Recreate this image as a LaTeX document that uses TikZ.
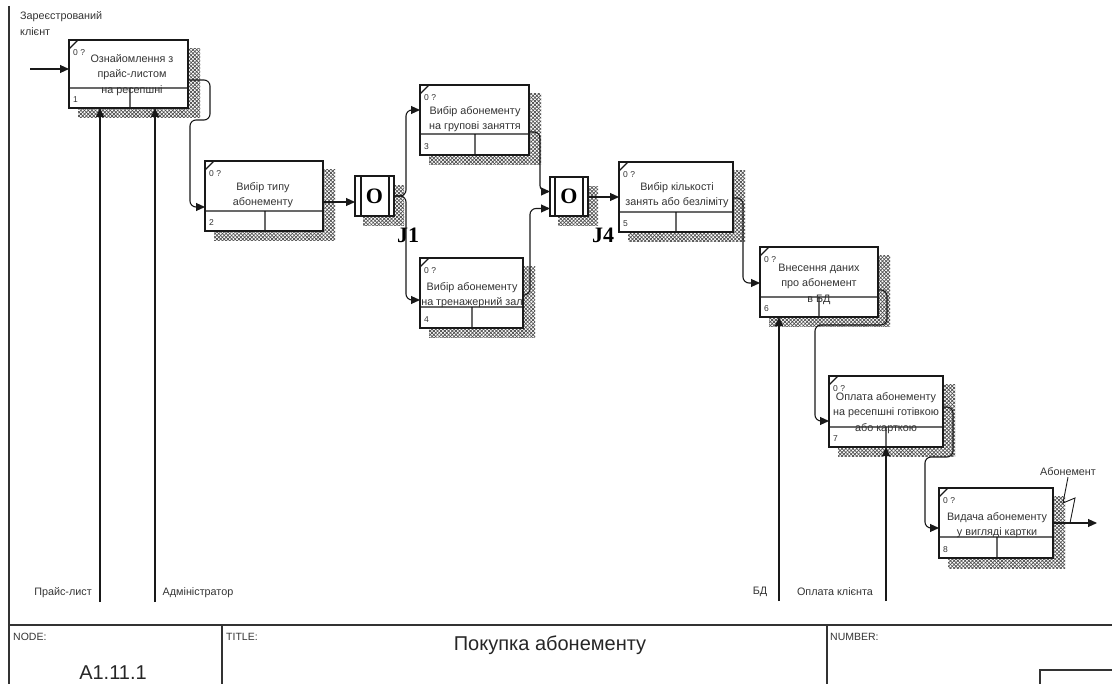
\documentclass[tikz,border=0pt]{standalone}
\usepackage{fontspec}
\setmainfont{Liberation Sans}
\newfontfamily\serifbold{Liberation Serif}
\usetikzlibrary{arrows.meta,patterns.meta}

\tikzset{
  hatchA/.style={pattern={Lines[angle=45,distance=2.6pt,line width=0.7pt]},pattern color=black!70},
  hatchB/.style={pattern={Lines[angle=-45,distance=2.6pt,line width=0.7pt]},pattern color=black!70},
  boxshape/.style={draw=black!90,line width=1.3pt,fill=white,inner sep=0pt,outer sep=0pt},
  boxedge/.style={draw=black!90,line width=1.3pt},
  frame/.style={draw=black!80,line width=1.4pt},
  conn/.style={draw=black!90,line width=1.1pt,rounded corners=6pt,-{Triangle[length=9pt,width=8pt]}},
  squig/.style={draw=black!90,line width=0.9pt},
  boxtext/.style={font=\fontsize{10.8}{15.5}\selectfont,text=black!80,align=center,inner sep=0pt},
  tag/.style={font=\fontsize{8.5}{10}\selectfont,text=black!80,inner sep=1pt},
  lbl/.style={font=\fontsize{10.8}{16}\selectfont,text=black!80,inner sep=1pt},
  hdr/.style={font=\fontsize{10.5}{12}\selectfont,text=black!80,inner sep=1pt},
  big/.style={font=\fontsize{20}{24}\selectfont,text=black!85,inner sep=0pt},
  jfont/.style={font=\serifbold\bfseries\fontsize{22}{22}\selectfont,inner sep=0pt},
}

% activity box: name, x1, y1, x2, y2, strip y, divider x, number
\newcommand\actbox[8]{%
  \fill[hatchA] (#2+9,#3+9) rectangle (#4+12,#5+10);
  \fill[hatchB] (#2+9,#3+9) rectangle (#4+12,#5+10);
  \node[boxshape,minimum width={(#4-#2)*1pt},minimum height={(#5-#3)*1pt},anchor=north west] (#1) at (#2,#3) {};
  \draw[boxedge] (#2,#6) -- (#4,#6) (#7,#6) -- (#7,#5) (#2,#3+9) -- (#2+9,#3);
  \node[tag,anchor=west] (#1q) at (#2+3,#3+13) {0 ?};
  \node[tag,anchor=west] (#1n) at (#2+3,#5-8) {#8};
}

% junction box: name, x1, y1, x2, y2, inner bar 1, inner bar 2
\newcommand\junct[7]{%
  \fill[hatchA] (#2+8,#3+10) rectangle (#4+10,#5+10);
  \fill[hatchB] (#2+8,#3+10) rectangle (#4+10,#5+10);
  \node[boxshape,minimum width={(#4-#2)*1pt},minimum height={(#5-#3)*1pt},anchor=north west] (#1) at (#2,#3) {};
  \draw[boxedge] (#6,#3) -- (#6,#5) (#7,#3) -- (#7,#5);
  \node[jfont] (#1o) at ({(#2+#4)/2},{(#3+#5)/2}) {O};
}

\begin{document}
\begin{tikzpicture}[x=1pt,y=-1pt]
\useasboundingbox (0,0) rectangle (1112,684);

% page frame and title block
\draw[frame] (9,6) -- (9,684);
\draw[frame] (9,625) -- (1112,625);
\draw[frame] (222,625) -- (222,684);
\draw[frame] (827,625) -- (827,684);
\draw[frame] (1040,684) -- (1040,670) -- (1112,670);
\node[hdr,anchor=west] (nodeL) at (12,637) {NODE:};
\node[hdr,anchor=west] (titleL) at (225,637) {TITLE:};
\node[hdr,anchor=west] (numL) at (829,637) {NUMBER:};
\node[big] (nodeV) at (113,673) {A1.11.1};
\node[big] (titleV) at (550,645) {Покупка абонементу};

% activity boxes
\actbox{b1}{69}{40}{188}{108}{88}{130}{1}
\actbox{b2}{205}{161}{323}{231}{211}{265}{2}
\actbox{b3}{420}{85}{529}{155}{134}{475}{3}
\actbox{b4}{420}{258}{523}{328}{307}{472}{4}
\actbox{b5}{619}{162}{733}{232}{212}{676}{5}
\actbox{b6}{760}{247}{878}{317}{297}{819}{6}
\actbox{b7}{829}{376}{943}{447}{427}{886}{7}
\actbox{b8}{939}{488}{1053}{558}{537}{997}{8}

% junctions
\junct{j1}{355}{176}{394}{216}{361}{389}
\junct{j4}{550}{177}{588}{216}{555}{583}
\node[jfont] (j1l) at (408,235) {J1};
\node[jfont] (j4l) at (603,235) {J4};

% activity names
\node[boxtext] (t1) at (132,75) {Ознайомлення з\\прайс-листом\\на ресепшні};
\node[boxtext] (t2) at (263,195) {Вибір типу\\абонементу};
\node[boxtext] (t3) at (475,119) {Вибір абонементу\\на групові заняття};
\node[boxtext] (t4) at (472,295) {Вибір абонементу\\на тренажерний зал};
\node[boxtext] (t5) at (677,195) {Вибір кількості\\занять або безліміту};
\node[boxtext] (t6) at (819,284) {Внесення даних\\про абонемент\\в БД};
\node[boxtext] (t7) at (886,413) {Оплата абонементу\\на ресепшні готівкою\\або карткою};
\node[boxtext] (t8) at (997,525) {Видача абонементу\\у вигляді картки};

% ports
\coordinate (in0) at (30,69);
\coordinate (o1) at ([yshift=-40pt]b1.north east);
\coordinate (b2in) at ([yshift=-46pt]b2.north west);
\coordinate (j1in) at ([yshift=-6pt]j1.west);
\coordinate (b3in) at ([yshift=-25pt]b3.north west);
\coordinate (b4in) at ([yshift=-42pt]b4.north west);
\coordinate (b3out) at ([yshift=-47pt]b3.north east);
\coordinate (b4out) at ([yshift=-37pt]b4.north east);
\coordinate (j4a) at ([yshift=5pt]j4.west);
\coordinate (j4b) at ([yshift=-12pt]j4.west);
\coordinate (b5in) at ([yshift=-35pt]b5.north west);
\coordinate (b5out) at ([yshift=-36pt]b5.north east);
\coordinate (b6in) at ([yshift=-36pt]b6.north west);
\coordinate (b6out) at ([yshift=-43pt]b6.north east);
\coordinate (b7in) at ([yshift=-45pt]b7.north west);
\coordinate (b7out) at ([yshift=-31pt]b7.north east);
\coordinate (b8in) at ([yshift=-40pt]b8.north west);
\coordinate (b8out) at ([yshift=-35pt]b8.north east);
\coordinate (m1) at (100,602);
\coordinate (m2) at (155,602);
\coordinate (m6) at (779,601);
\coordinate (m7) at (886,601);

% external input
\node[lbl,align=left,anchor=north west] (inL) at (19,10) {Зареєстрований\\клієнт};
\draw[conn] (in0) -- (in0 -| b1.west);

% flow between activities
\draw[conn] (o1) -- ++(22,0) -- ++(0,40) -- ++(-20,0) |- (b2in);
\draw[conn] (j1in -| b2.east) -- (j1in);
\draw[conn] (j1.east) -- ++(12,0) |- (b3in);
\draw[conn] (j1.east) -- ++(12,0) |- (b4in);
\draw[conn] (b3out) -- ++(11,0) |- (j4a);
\draw[conn] (b4out) -- ++(7,0) |- (j4b);
\draw[conn] (b5in -| j4.east) -- (b5in);
\draw[conn] (b5out) -- ++(10,0) |- (b6in);
\draw[conn] (b6out) -- ++(9,0) -- ++(0,35) -- ++(-72,0) |- (b7in);
\draw[conn] (b7out) -- ++(10,0) -- ++(0,50) -- ++(-28,0) |- (b8in);

% final output
\draw[conn] (b8out) -- ++(44,0) coordinate (out8);
\node[lbl] (lab8) at (1068,472) {Абонемент};
\coordinate (sq) at (1070,523);
\draw[squig] (lab8.south) -- (1063,503) -- (1075,498) -- (sq);

% mechanisms from below
\draw[conn] (m1) -- (m1 |- b1.south);
\draw[conn] (m2) -- (m2 |- b1.south);
\draw[conn] (m6) -- (m6 |- b6.south);
\draw[conn] (m7) -- (m7 |- b7.south);
\node[lbl] (l1) at (63,593) {Прайс-лист};
\node[lbl] (l2) at (198,593) {Адміністратор};
\node[lbl] (l6) at (760,592) {БД};
\node[lbl] (l7) at (835,592) {Оплата клієнта};
\end{tikzpicture}
\end{document}
